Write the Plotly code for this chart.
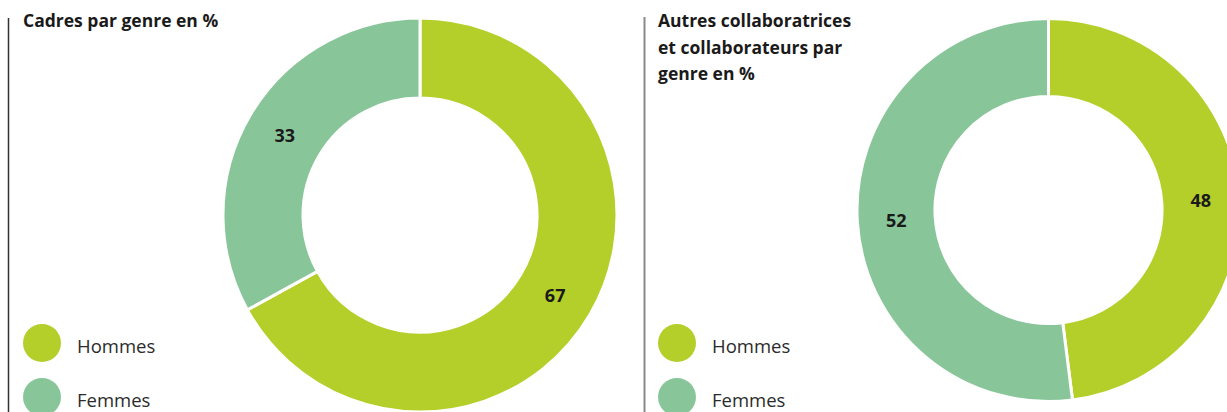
import plotly.graph_objects as go

# ---- data ----
categories = ["Hommes", "Femmes"]
cadres_values = [67, 33]
autres_values = [48, 52]
colors = ["#B4CF29", "#88C69A"]
title_left = "Cadres par genre en %"
title_right_lines = ["Autres collaboratrices", "et collaborateurs par", "genre en %"]

W, H = 1245, 412
FONT = "Open Sans"

def px(x):
    return x / W

def py(y):
    return 1 - y / H

fig = go.Figure()

# left donut
fig.add_trace(go.Pie(
    labels=categories, values=cadres_values, sort=False, direction="clockwise",
    rotation=0, hole=0.594,
    marker=dict(colors=colors, line=dict(color="white", width=3)),
    textinfo="value", textposition="inside", insidetextorientation="horizontal",
    textfont=dict(family=FONT, size=18, color="#1a1a1a", weight="bold"),
    domain=dict(x=[px(223), px(617)], y=[py(412), py(18)]),
    showlegend=False, hoverinfo="label+value",
))

# right donut
fig.add_trace(go.Pie(
    labels=categories, values=autres_values, sort=False, direction="clockwise",
    rotation=0, hole=0.593,
    marker=dict(colors=colors, line=dict(color="white", width=3)),
    textinfo="value", textposition="inside", insidetextorientation="horizontal",
    textfont=dict(family=FONT, size=18, color="#1a1a1a", weight="bold"),
    domain=dict(x=[px(857), px(1240)], y=[py(401.5), py(18.5)]),
    showlegend=False, hoverinfo="label+value",
))

shapes = [
    dict(type="line", xref="paper", yref="paper", x0=px(8.5), x1=px(8.5), y0=py(18), y1=0,
         line=dict(color="#333333", width=1.5)),
    dict(type="line", xref="paper", yref="paper", x0=px(644.5), x1=px(644.5), y0=py(17), y1=0,
         line=dict(color="#8a8a8a", width=2)),
]
annotations = [
    dict(text=f"<b>{title_left}</b>", x=px(21), y=py(20), xref="paper", yref="paper",
         xanchor="left", yanchor="middle", showarrow=False,
         font=dict(family=FONT, size=17.5, color="#1a1a1a")),
]
for i, line in enumerate(title_right_lines):
    annotations.append(dict(text=f"<b>{line}</b>", x=px(656), y=py(20 + 26.5 * i),
                            xref="paper", yref="paper", xanchor="left", yanchor="middle",
                            showarrow=False, font=dict(family=FONT, size=17.5, color="#1a1a1a")))

# legends (circle swatches + labels)
for cx, tx in [(42, 75), (677, 710)]:
    for j, (cat, col) in enumerate(zip(categories, colors)):
        cy = 343 + 54 * j
        shapes.append(dict(type="circle", xref="paper", yref="paper",
                           x0=px(cx - 19), x1=px(cx + 19), y0=py(cy + 19), y1=py(cy - 19),
                           fillcolor=col, line=dict(width=0)))
        annotations.append(dict(text=cat, x=px(tx), y=py(cy + 2), xref="paper", yref="paper",
                                xanchor="left", yanchor="middle", showarrow=False,
                                font=dict(family=FONT, size=18.5, color="#2b2b2b")))

fig.update_layout(
    width=W, height=H, margin=dict(l=0, r=0, t=0, b=0),
    paper_bgcolor="white", plot_bgcolor="white",
    shapes=shapes, annotations=annotations, showlegend=False,
)

fig.write_html("out.html", config={"displayModeBar": False},
               post_script="document.body.style.margin='0';document.body.style.overflow='hidden';document.documentElement.style.overflow='hidden';")
